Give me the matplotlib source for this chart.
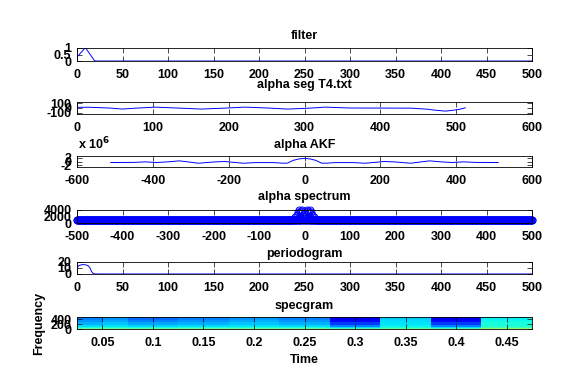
import numpy as np
import matplotlib
matplotlib.use('Agg')
import matplotlib.pyplot as plt

plt.rcParams['font.family'] = ['Liberation Sans', 'DejaVu Sans']
plt.rcParams['font.size'] = 9
plt.rcParams['font.weight'] = 'bold'
plt.rcParams['axes.unicode_minus'] = False

W, H = 587, 376
BLUE = '#0000ff'
FS = 9

# ---------------- data ----------------
filter_x = list(range(0, 21)) + [500]
filter_y = [0.30, 0.38, 0.46, 0.54, 0.62, 0.70, 0.78, 0.86, 0.94, 1.00, 0.95,
            0.85, 0.75, 0.65, 0.55, 0.45, 0.35, 0.25, 0.15, 0.05, 0.0, 0.0]

seg_x = [0, 17, 42, 60, 78, 103, 131, 164, 194, 221, 251, 278, 307, 327, 360,
         400, 440, 462, 472, 486, 497, 505, 512]
seg_y = [15, 15, 0, -22, -3, 18, 0, -22, -3, 18, 0, -22, -3, 18, 0,
         -2, -3, -25, -45, -65, -45, -25, 4]

akf_lag_pos = [0, 15, 30, 45, 60, 80, 130, 160, 190, 210, 235, 260, 280, 300,
               330, 360, 390, 420, 450, 511]
akf_val_pos = [1.7e6, 1.4e6, 0.6e6, -0.9e6, -0.9e6, -0.6e6, -0.6e6, -0.95e6,
               -0.4e6, 0.0, -0.2e6, -0.6e6, -0.95e6, -0.4e6, 0.35e6, -0.2e6,
               -0.55e6, -0.2e6, -0.5e6, -0.55e6]

spec_freq = np.arange(-500, 501)
spec_base = 800.0
spec_peak_f = [-24, -20, -17, -15, -13, -10, -7, -5, -3, -1, 0,
               1, 3, 5, 7, 10, 13, 15, 17, 20, 24]
spec_peak_v = [1200, 1800, 2600, 3500, 3900, 3300, 3700, 3900, 2500, 1600, 1200,
               1600, 2500, 3900, 3700, 3300, 3900, 3500, 2600, 1800, 1200]

per_x = [0, 2, 4, 6, 8, 10, 12, 14, 16, 18, 20, 30, 500]
per_y = [10, 14, 15, 15.6, 15.6, 15, 14, 11, 4, 0.5, 0.1, 0.05, 0.05]

spg_t_edges = [0.025, 0.05, 0.075, 0.1, 0.125, 0.15, 0.175, 0.2, 0.225, 0.25,
               0.275, 0.3, 0.325, 0.35, 0.375, 0.4, 0.425, 0.45, 0.475]
spg_f_edges = [0, 20, 50, 100, 180, 280, 380, 500]
spg_vals = [
    [0.62, 0.62, 0.61, 0.61, 0.62, 0.62, 0.62, 0.62, 0.62, 0.62, 0.60, 0.60, 0.62, 0.62, 0.60, 0.60, 0.70, 0.70],
    [0.47, 0.47, 0.46, 0.46, 0.47, 0.47, 0.47, 0.47, 0.47, 0.47, 0.43, 0.43, 0.46, 0.46, 0.43, 0.43, 0.52, 0.52],
    [0.39, 0.39, 0.38, 0.38, 0.39, 0.39, 0.39, 0.39, 0.39, 0.39, 0.34, 0.34, 0.39, 0.39, 0.34, 0.34, 0.43, 0.43],
    [0.34, 0.35, 0.33, 0.33, 0.34, 0.34, 0.35, 0.35, 0.34, 0.34, 0.25, 0.25, 0.36, 0.36, 0.25, 0.25, 0.39, 0.39],
    [0.30, 0.32, 0.29, 0.29, 0.30, 0.30, 0.32, 0.32, 0.30, 0.30, 0.18, 0.18, 0.35, 0.35, 0.18, 0.18, 0.38, 0.38],
    [0.27, 0.29, 0.25, 0.25, 0.27, 0.27, 0.29, 0.30, 0.27, 0.27, 0.13, 0.13, 0.34, 0.34, 0.13, 0.13, 0.37, 0.37],
    [0.25, 0.27, 0.23, 0.23, 0.25, 0.25, 0.27, 0.28, 0.25, 0.25, 0.10, 0.10, 0.33, 0.33, 0.10, 0.10, 0.36, 0.36],
]

titles = ['filter', 'alpha seg T4.txt', 'alpha AKF', 'alpha spectrum',
          'periodogram', 'specgram']

# ---------------- layout (pixel rows) ----------------
rows_px = [(48, 61), (102, 114), (156, 167), (210, 223), (262, 274), (317, 329)]
title_px = [36, 85, 145, 197, 254, 306]
LEFT, RIGHT = 77, 532

fig = plt.figure(figsize=(W / 100, H / 100), dpi=100)
axes = []
for (t, b) in rows_px:
    ax = fig.add_axes([LEFT / W, 1 - b / H, (RIGHT - LEFT) / W, (b - t) / H])
    axes.append(ax)

for ax, tp, ttl in zip(axes, title_px, titles):
    fig.text((LEFT + RIGHT) / 2 / W, 1 - tp / H, ttl, ha='center', va='center',
             fontsize=FS)

def style(ax):
    ax.tick_params(direction='in', top=True, right=True, length=3.5, width=0.5,
                   pad=6, labelsize=FS)
    ax.tick_params(axis='y', pad=4)
    for s in ax.spines.values():
        s.set_linewidth(0.6)

# 1 filter
ax = axes[0]
ax.plot(filter_x, filter_y, color=BLUE, lw=0.7)
ax.set_xlim(0, 500)
ax.set_ylim(0, 1)
ax.set_xticks(np.arange(0, 501, 50))
ax.set_yticks([0, 0.5, 1])
ax.set_yticklabels(['0', '0.5', '1'])
style(ax)

# 2 alpha seg
ax = axes[1]
ax.plot(seg_x, seg_y, color=BLUE, lw=0.7)
ax.set_xlim(0, 600)
ax.set_ylim(-125, 125)
ax.set_xticks(np.arange(0, 601, 100))
ax.set_yticks([-100, 0, 100])
style(ax)

# 3 AKF
ax = axes[2]
akf_x = [-l for l in reversed(akf_lag_pos)] + akf_lag_pos[1:]
akf_y = list(reversed(akf_val_pos)) + akf_val_pos[1:]
ax.plot(akf_x, akf_y, color=BLUE, lw=0.7)
ax.set_xlim(-600, 600)
ax.set_ylim(-3e6, 3e6)
ax.set_xticks(np.arange(-600, 601, 200))
ax.set_yticks([-2e6, 0, 2e6])
ax.set_yticklabels(['-2', '0', '2'])
style(ax)
fig.text(78 / W, 1 - 144 / H, r'x 10$^{6}$', ha='left', va='center', fontsize=FS)

# 4 spectrum (stem)
ax = axes[3]
spec_vals = np.full(len(spec_freq), spec_base)
for f, v in zip(spec_peak_f, spec_peak_v):
    spec_vals[f + 500] = v
ax.vlines(spec_freq, 0, spec_vals, color=BLUE, lw=0.6)
ax.plot(spec_freq, spec_vals, 'o', ms=5, mfc='none', mec=BLUE, mew=0.7,
        clip_on=False)
ax.set_xlim(-500, 500)
ax.set_ylim(0, 4000)
ax.set_xticks(np.arange(-500, 501, 100))
ax.set_yticks([0, 2000, 4000])
style(ax)

# 5 periodogram
ax = axes[4]
ax.plot(per_x, per_y, color=BLUE, lw=0.7)
ax.set_xlim(0, 500)
ax.set_ylim(0, 20)
ax.set_xticks(np.arange(0, 501, 50))
ax.set_yticks([0, 10, 20])
style(ax)

# 6 specgram
ax = axes[5]
ax.pcolormesh(spg_t_edges, spg_f_edges, np.array(spg_vals), cmap='jet',
              vmin=0, vmax=1, shading='flat')
ax.set_xlim(0.025, 0.475)
ax.set_ylim(0, 500)
ax.set_xticks([0.05, 0.1, 0.15, 0.2, 0.25, 0.3, 0.35, 0.4, 0.45])
ax.set_xticklabels(['0.05', '0.1', '0.15', '0.2', '0.25', '0.3', '0.35', '0.4', '0.45'])
ax.set_yticks([0, 200, 400])
style(ax)
fig.text((LEFT + RIGHT) / 2 / W, 1 - 360 / H, 'Time', ha='center',
         va='center', fontsize=FS)
fig.text(39 / W, 1 - 323 / H, 'Frequency', rotation=90, ha='center',
         va='center', fontsize=FS)

fig.savefig('out.png', dpi=100)
